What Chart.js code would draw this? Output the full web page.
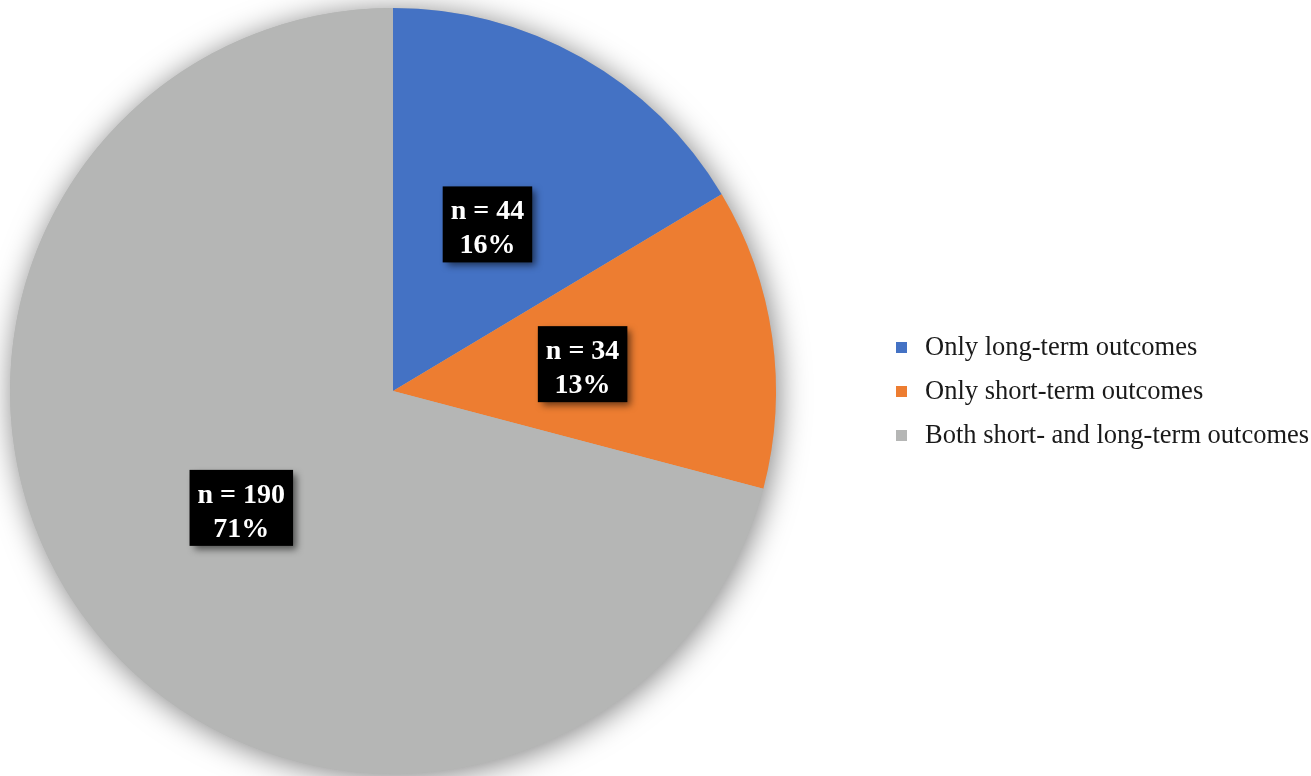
<!DOCTYPE html>
<html>
<head>
<meta charset="utf-8">
<script src="https://cdn.jsdelivr.net/npm/chart.js@4/dist/chart.umd.min.js"></script>
<style>
    body { margin: 0; background: #ffffff; }
    #wrap { width: 1311px; height: 776px; }
</style>
</head>
<body>
<div id="wrap"><canvas id="myChart" width="1311" height="776"></canvas></div>
<script>
var labels = ['Only long-term outcomes', 'Only short-term outcomes', 'Both short- and long-term outcomes'];
var counts = [44, 34, 190];
var colors = ['#4472C4', '#ED7D31', '#B5B6B5'];

var total = counts.reduce((a, b) => a + b, 0);

// soft halo under the whole pie
var pieShadow = {
    id: 'pieShadow',
    beforeDatasetsDraw(chart) {
        var arc = chart.getDatasetMeta(0).data[0];
        if (!arc) return;
        var ctx = chart.ctx;
        ctx.save();
        ctx.shadowColor = 'rgba(0, 0, 0, 0.5)';
        ctx.shadowBlur = 30;
        ctx.shadowOffsetX = 2;
        ctx.shadowOffsetY = 3;
        ctx.fillStyle = '#B5B6B5';
        ctx.beginPath();
        ctx.arc(arc.x, arc.y, arc.outerRadius, 0, Math.PI * 2);
        ctx.fill();
        ctx.restore();
    }
};

// black boxes with "n = .." and percentage in the middle of each slice
var sliceLabels = {
    id: 'sliceLabels',
    afterDatasetsDraw(chart) {
        var ctx = chart.ctx;
        var meta = chart.getDatasetMeta(0);
        ctx.save();
        ctx.font = 'bold 28px "Liberation Serif", "Times New Roman", serif';
        meta.data.forEach((arc, i) => {
            var p = arc.getCenterPoint();
            var line1 = 'n = ' + counts[i];
            var line2 = Math.round(counts[i] / total * 100) + '%';
            var w = Math.max(ctx.measureText(line1).width, ctx.measureText(line2).width) + 16;
            var h = 76;
            ctx.save();
            ctx.shadowColor = 'rgba(0, 0, 0, 0.55)';
            ctx.shadowBlur = 7;
            ctx.shadowOffsetX = 4;
            ctx.shadowOffsetY = 4;
            ctx.fillStyle = '#000000';
            ctx.fillRect(p.x - w / 2, p.y - h / 2, w, h);
            ctx.restore();
            ctx.fillStyle = '#ffffff';
            ctx.textAlign = 'center';
            ctx.textBaseline = 'alphabetic';
            ctx.fillText(line1, p.x, p.y - 5);
            ctx.fillText(line2, p.x, p.y + 29);
        });
        ctx.restore();
    }
};

// legend on the right side
var sideLegend = {
    id: 'sideLegend',
    afterDraw(chart) {
        var ctx = chart.ctx;
        ctx.save();
        ctx.font = '26.5px "Liberation Serif", "Times New Roman", serif';
        ctx.textAlign = 'left';
        ctx.textBaseline = 'alphabetic';
        labels.forEach((lab, i) => {
            var y = 347 + i * 44;
            ctx.fillStyle = colors[i];
            ctx.fillRect(896, y - 5, 11, 11);
            ctx.fillStyle = '#1a1a1a';
            ctx.fillText(lab, 925, y + 8);
        });
        ctx.restore();
    }
};

var ctx = document.getElementById('myChart').getContext('2d');
var myChart = new Chart(ctx, {
    type: 'pie',
    data: {
        labels: labels,
        datasets: [{
            data: counts,
            backgroundColor: colors,
            borderWidth: 0
        }]
    },
    options: {
        responsive: false,
        animation: false,
        layout: {
            padding: { left: 10, top: 8, bottom: 2, right: 535 }
        },
        plugins: {
            legend: { display: false },
            tooltip: { enabled: false }
        }
    },
    plugins: [pieShadow, sliceLabels, sideLegend]
});
</script>
</body>
</html>
